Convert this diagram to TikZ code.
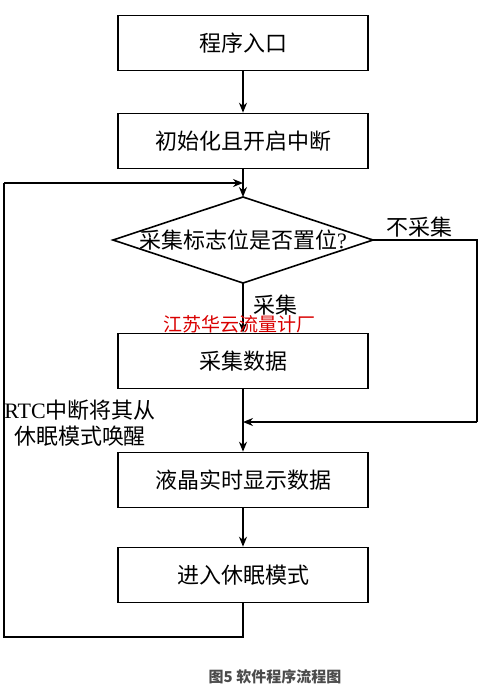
\documentclass[tikz,border=0pt]{standalone}
\usepackage{fontspec}
\setmainfont{Liberation Serif}
\newfontfamily\cjk{Noto Sans CJK SC}
\usetikzlibrary{arrows.meta}

\tikzset{
  stepbox/.style={draw,line width=1.6pt,minimum width=250pt,minimum height=55pt,inner sep=0pt,font=\cjk\fontsize{22}{26}\selectfont},
  txt/.style={inner sep=0pt,font=\cjk\fontsize{22}{26}\selectfont},
  flow/.style={line width=1.6pt,-{Stealth[length=10pt,width=8pt]}},
  wire/.style={line width=1.6pt}
}

\begin{document}
\begin{tikzpicture}[x=1pt,y=-1pt]
\useasboundingbox (0,0) rectangle (493,691);
% boxes
\node[stepbox] (entry) at (243,43) {程序入口};
\node[stepbox] (init) at (243,141) {初始化且开启中断};
\node[stepbox] (collect) at (243,361) {采集数据};
\node[stepbox] (lcd) at (243,480) {液晶实时显示数据};
\node[stepbox] (sleep) at (243,575) {进入休眠模式};
% decision
\coordinate (dtop) at (243,197);
\coordinate (dbot) at (243,283);
\coordinate (dleft) at (113,240);
\coordinate (dright) at (373,240);
\draw[wire] (dtop) -- (dright) -- (dbot) -- (dleft) -- cycle;
\node[txt] (flag) at (243,240) {采集标志位是否置位{\rmfamily ?}};
% helper points
\coordinate (loopin) at (243,183);
\coordinate (merge) at (243,422);
\coordinate (rtop) at (477,240);
\coordinate (rbot) at (477,422);
\coordinate (lbot) at (4,637);
\coordinate (ltop) at (4,183);
\coordinate (sbot) at (243,637);
% connectors
\draw[flow] (entry) -- (init);
\draw[flow] (init) -- (dtop);
\draw[flow] (dbot) -- (collect);
\draw[flow] (collect) -- (lcd);
\draw[flow] (lcd) -- (sleep);
\draw[wire] (dright) -- (rtop) -- (rbot);
\draw[flow] (rbot) -- (merge);
\draw[wire] (sleep) -- (sbot) -- (lbot) -- (ltop);
\draw[flow] (ltop) -- (loopin);
% labels
\node[txt] (nocol) at (419,227) {不采集};
\node[txt] (yescol) at (275,305) {采集};
\node[txt,text=red!85!black,font=\cjk\fontsize{19}{22}\selectfont] (mark) at (239,324) {江苏华云流量计厂};
\node[txt,align=center] (rtc) at (80,423) {{\rmfamily RTC}中断将其从\\休眠模式唤醒};
\node[inner sep=0pt,text=black!70,font=\cjk\bfseries\fontsize{15}{18}\selectfont] (cap) at (275,677) {图5 软件程序流程图};
\end{tikzpicture}
\end{document}
